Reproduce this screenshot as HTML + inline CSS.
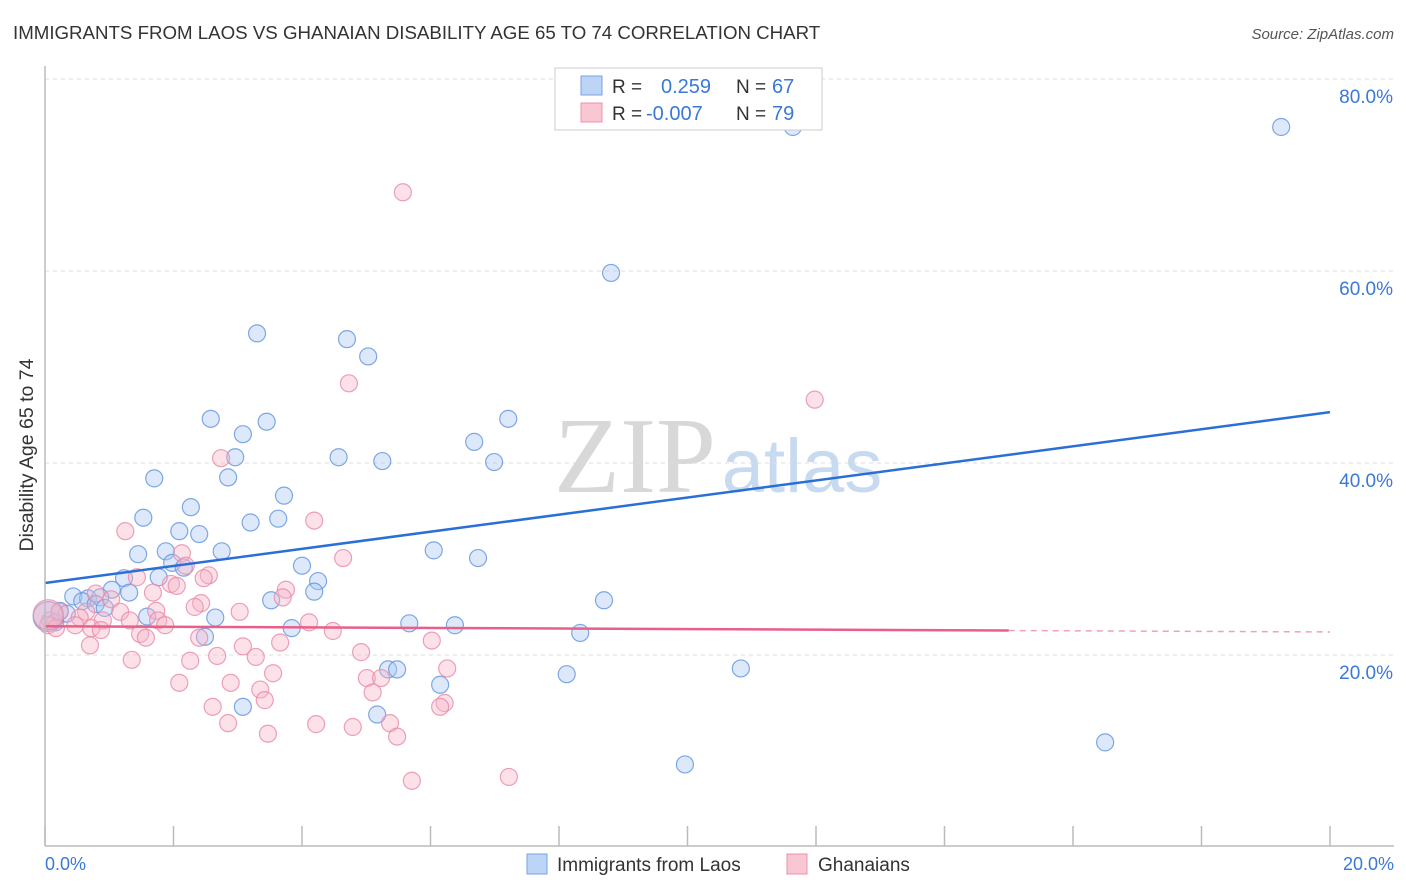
<!DOCTYPE html>
<html><head><meta charset="utf-8">
<style>
body{margin:0;background:#fff;font-family:"Liberation Sans",sans-serif;}
#wrap{position:relative;width:1406px;height:892px;overflow:hidden;}
</style></head>
<body><div id="wrap">
<svg id="svg" width="1406" height="892" xmlns="http://www.w3.org/2000/svg">
<text x="13" y="39" font-size="18.7" fill="#333">IMMIGRANTS FROM LAOS VS GHANAIAN DISABILITY AGE 65 TO 74 CORRELATION CHART</text>
<text x="1394" y="39" font-size="15" fill="#555" font-style="italic" text-anchor="end">Source: ZipAtlas.com</text>
<text x="635" y="492" font-size="108" fill="#d8d8d8" font-family="Liberation Serif,serif" text-anchor="middle">ZIP</text>
<text x="802" y="492" font-size="76" fill="#c8daf0" text-anchor="middle">atlas</text>
<text transform="translate(33,455) rotate(-90)" font-size="19.5" fill="#333" text-anchor="middle">Disability Age 65 to 74</text>
<g id="grid"></g><g id="pts"></g><g id="lines"></g>
<line x1="45" y1="66" x2="45" y2="846" stroke="#bbb" stroke-width="1.5"/>
<line x1="45" y1="846" x2="1394" y2="846" stroke="#bbb" stroke-width="1.5"/>
<text x="45" y="870" font-size="18" fill="#3b78d8">0.0%</text>
<text x="1394" y="870" font-size="18" fill="#3b78d8" text-anchor="end">20.0%</text>
<g>
<rect x="555" y="68" width="267" height="62" fill="#fff" stroke="#ccc"/>
<rect x="581" y="76" width="21" height="19" fill="#bcd4f5" stroke="#7aa3e0"/>
<rect x="581" y="103" width="21" height="19" fill="#f9c6d4" stroke="#eb93ad"/>
<text x="612" y="93" font-size="19" fill="#333">R = </text><text x="661" y="93" font-size="20" fill="#3b78d8">0.259</text>
<text x="736" y="93" font-size="19" fill="#333">N = </text><text x="772" y="93" font-size="20" fill="#3b78d8">67</text>
<text x="612" y="120" font-size="19" fill="#333">R = </text><text x="646" y="120" font-size="20" fill="#3b78d8">-0.007</text>
<text x="736" y="120" font-size="19" fill="#333">N = </text><text x="772" y="120" font-size="20" fill="#3b78d8">79</text>
</g>
<g>
<rect x="527" y="854" width="20" height="20" fill="#bcd4f5" stroke="#7aa3e0"/>
<text x="557" y="871" font-size="19" fill="#333">Immigrants from Laos</text>
<rect x="787" y="854" width="20" height="20" fill="#f9c6d4" stroke="#eb93ad"/>
<text x="818" y="871" font-size="19" fill="#333">Ghanaians</text>
</g>
</svg></div>
<script>
const yTicks=[20,40,60,80];
const xTicks=[0,2,4,6,8,10,12,14,16,18,20];
const blueX=[11.64,19.24,8.81,3.30,4.70,5.03,2.58,3.45,7.21,3.08,6.68,2.96,4.57,5.25,6.99,2.85,1.70,3.72,2.27,1.53,3.63,3.20,2.09,2.40,6.05,1.45,2.75,1.88,6.74,1.98,4.00,2.16,1.77,1.23,4.25,1.04,1.31,0.44,0.67,0.86,4.19,0.58,3.52,8.70,0.79,0.93,0.23,0.34,1.59,2.65,0.08,0.16,5.67,6.38,3.84,8.33,2.49,10.83,5.34,5.48,8.12,6.15,3.08,5.17,16.50,9.96,0.05];
const blueY=[75.0,75.0,59.8,53.5,52.9,51.1,44.6,44.3,44.6,43.0,42.2,40.6,40.6,40.2,40.1,38.5,38.4,36.6,35.4,34.3,34.2,33.8,32.9,32.6,30.9,30.5,30.8,30.8,30.1,29.6,29.3,29.1,28.1,28.0,27.7,26.8,26.5,26.1,25.9,26.0,26.6,25.6,25.7,25.7,25.3,24.9,24.6,24.3,24.0,23.9,23.6,23.4,23.3,23.1,22.8,22.3,21.9,18.6,18.5,18.5,18.0,16.9,14.6,13.8,10.9,8.6,24.0];
const pinkX=[5.57,11.98,4.73,2.74,4.19,1.25,4.64,2.13,2.19,1.43,2.55,2.47,1.96,2.05,3.75,3.70,0.79,1.68,1.03,2.43,2.33,3.03,1.73,1.17,0.64,0.23,0.54,0.90,1.32,1.76,1.87,0.47,0.72,4.11,0.05,0.17,0.87,4.48,1.48,1.57,2.40,6.02,3.66,0.70,3.08,4.92,3.28,2.68,1.35,2.26,6.26,3.55,2.09,2.89,5.01,5.23,3.35,5.10,3.42,6.22,6.15,2.61,5.37,4.22,2.85,4.79,3.47,5.48,5.71,7.22,0.05];
const pinkY=[68.2,46.6,48.3,40.5,34.0,32.9,30.1,30.6,29.3,28.1,28.3,28.0,27.4,27.2,26.8,26.0,26.4,26.5,25.8,25.4,25.0,24.5,24.6,24.5,24.5,24.5,23.9,23.6,23.6,23.6,23.1,23.1,22.8,23.4,23.1,22.8,22.6,22.5,22.2,21.8,21.8,21.5,21.3,21.0,20.9,20.3,19.8,19.9,19.5,19.4,18.6,18.1,17.1,17.1,17.6,17.6,16.4,16.1,15.3,15.0,14.6,14.6,12.9,12.8,12.9,12.5,11.8,11.5,6.9,7.3,24.2];
const blueTrend=[27.5,45.3];
const pinkTrend=[23.0,22.4];
const NS='http://www.w3.org/2000/svg';
function sx(v){return 45+v/20*1285;}
function sy(v){return 847-v*9.6;}
function mk(tag,a,parent){const e=document.createElementNS(NS,tag);for(const k in a)e.setAttribute(k,a[k]);parent.appendChild(e);return e;}
const grid=document.getElementById('grid'),pts=document.getElementById('pts'),lines=document.getElementById('lines');
yTicks.forEach(t=>{
 const l=mk('line',{x1:45,x2:1394,y1:sy(t),y2:sy(t),stroke:'#ddd','stroke-dasharray':'4,4'},grid);
 
 
 const tx=mk('text',{x:1393,y:sy(t)+24,'font-size':19,fill:'#3b78d8','text-anchor':'end'},grid);
 tx.textContent=t.toFixed(1)+'%';
 
 
});
xTicks.forEach(t=>{
 const l=mk('line',{x1:sx(t),x2:sx(t),y1:826,y2:846,stroke:'#bbb','stroke-width':1.5},grid);
 
 
});
function drawPts(X,Y,fill,stroke,name){
 X.forEach((x,i)=>{
  const big=(i===X.length-1);
  const c=mk('circle',{cx:sx(x),cy:sy(Y[i]),r:big?15:8.5,fill:fill,'fill-opacity':big?0.5:0.4,stroke:stroke,'stroke-width':1.2,'stroke-opacity':0.8},pts);
  
  
 });
}
drawPts(blueX,blueY,'#a9c7f2','#5f93df','point-laos');
drawPts(pinkX,pinkY,'#f7b3c7','#e98aa8','point-ghanaians');
const bl=mk('line',{x1:sx(0),y1:sy(blueTrend[0]),x2:sx(20),y2:sy(blueTrend[1]),stroke:'#2a6fd6','stroke-width':2.5},lines);


const pm=pinkTrend[0]+(pinkTrend[1]-pinkTrend[0])*0.75;
const pl=mk('line',{x1:sx(0),y1:sy(pinkTrend[0]),x2:sx(15),y2:sy(pm),stroke:'#e8608a','stroke-width':2.5},lines);


const pd=mk('line',{x1:sx(15),y1:sy(pm),x2:sx(20),y2:sy(pinkTrend[1]),stroke:'#e8608a','stroke-width':1.5,'stroke-dasharray':'6,5','stroke-opacity':0.6},lines);


</script>
</body></html>
